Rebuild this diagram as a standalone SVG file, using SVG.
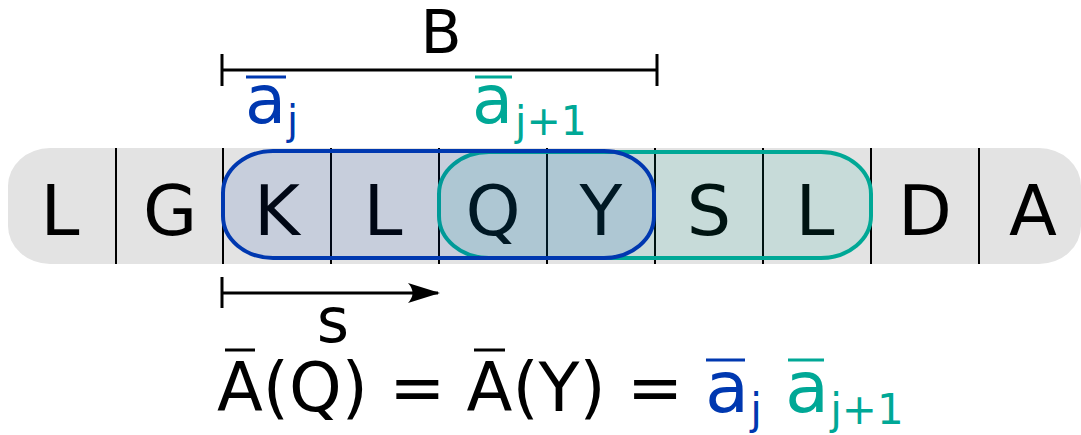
<svg xmlns="http://www.w3.org/2000/svg" width="1081" height="435" viewBox="0 0 1081 435">
  <defs>
    <style>
      .t { font-family: "DejaVu Sans", "Liberation Sans", sans-serif; }
      .cell { font-size: 70px; text-anchor: middle; fill: #000; }
      .div { stroke: #000; stroke-width: 2; }
      .blk { stroke: #000; stroke-width: 3; fill: none; }
      .blue { fill: #0038b0; }
      .teal { fill: #00a896; }
      .ob { stroke: #0038b0; stroke-width: 3; }
      .ot { stroke: #00a896; stroke-width: 3; }
      .ok { stroke: #000; stroke-width: 3; }
    </style>
    <marker id="arr" viewBox="0 0 32 20" refX="30" refY="10" markerWidth="32" markerHeight="20" markerUnits="userSpaceOnUse" orient="auto">
      <path d="M32,10 L0,0 Q9,10 0,20 Z" fill="#000"/>
    </marker>
  </defs>

  <!-- sequence strip -->
  <g id="strip">
    <rect x="8" y="148" width="1073" height="116" rx="42" ry="38" fill="#e3e3e3"/>
    <g class="div">
      <line x1="116" y1="148" x2="116" y2="264"/>
      <line x1="223" y1="148" x2="223" y2="264"/>
      <line x1="331" y1="148" x2="331" y2="264"/>
      <line x1="439" y1="148" x2="439" y2="264"/>
      <line x1="547" y1="148" x2="547" y2="264"/>
      <line x1="655" y1="148" x2="655" y2="264"/>
      <line x1="763" y1="148" x2="763" y2="264"/>
      <line x1="871" y1="148" x2="871" y2="264"/>
      <line x1="979" y1="148" x2="979" y2="264"/>
    </g>
    <g class="t cell">
      <text x="60" y="235">L</text>
      <text x="170" y="235">G</text>
      <text x="277" y="235">K</text>
      <text x="383" y="235">L</text>
      <text x="493" y="235">Q</text>
      <text x="601" y="235">Y</text>
      <text x="709" y="235">S</text>
      <text x="815" y="235">L</text>
      <text x="925" y="235">D</text>
      <text x="1033" y="235">A</text>
    </g>
  </g>

  <!-- blocks -->
  <g id="block-teal">
    <rect x="439" y="152" width="432" height="106" rx="50" ry="42" fill="#00a896" fill-opacity="0.12" stroke="#00a896" stroke-width="4"/>
  </g>
  <g id="block-blue">
    <rect x="223" y="151" width="431" height="107" rx="50" ry="42" fill="#0038b0" fill-opacity="0.12" stroke="#0038b0" stroke-width="4"/>
  </g>

  <!-- connectors / dimension markers -->
  <g id="connectors">
    <line class="blk" x1="222" y1="70" x2="657" y2="70"/>
    <line class="blk" x1="222" y1="54" x2="222" y2="86"/>
    <line class="blk" x1="657" y1="54" x2="657" y2="86"/>
    <line class="blk" x1="222" y1="293" x2="438" y2="293" marker-end="url(#arr)"/>
    <line class="blk" x1="222" y1="277" x2="222" y2="308"/>
  </g>

  <!-- labels -->
  <g id="label-B">
    <text class="t" x="441" y="53" font-size="60" text-anchor="middle">B</text>
  </g>
  <g id="label-s">
    <text class="t" x="333" y="342" font-size="62" text-anchor="middle">s</text>
  </g>
  <g id="label-aj">
    <text class="t blue" x="245" y="123" font-size="67">a<tspan font-size="40" y="134" dx="1">j</tspan></text>
    <line class="ob" x1="246" y1="77" x2="286" y2="77"/>
  </g>
  <g id="label-aj1">
    <text class="t teal" x="472" y="123" font-size="67">a<tspan font-size="41" y="135" dx="2">j+1</tspan></text>
    <line class="ot" x1="475" y1="77" x2="512" y2="77"/>
  </g>

  <!-- formula -->
  <g id="formula">
    <text class="t" x="217" y="411" font-size="67">A(Q) = A(Y) =</text>
    <line class="ok" x1="225" y1="350" x2="255" y2="350"/>
    <line class="ok" x1="474" y1="350" x2="505" y2="350"/>
    <text class="t blue" x="705" y="412" font-size="72">a<tspan font-size="42" y="424" dx="1">j</tspan></text>
    <line class="ob" x1="706" y1="360" x2="745" y2="360"/>
    <text class="t teal" x="785" y="412" font-size="72">a<tspan font-size="42" y="424" dx="1">j+1</tspan></text>
    <line class="ot" x1="788" y1="360" x2="824" y2="360"/>
  </g>
</svg>
